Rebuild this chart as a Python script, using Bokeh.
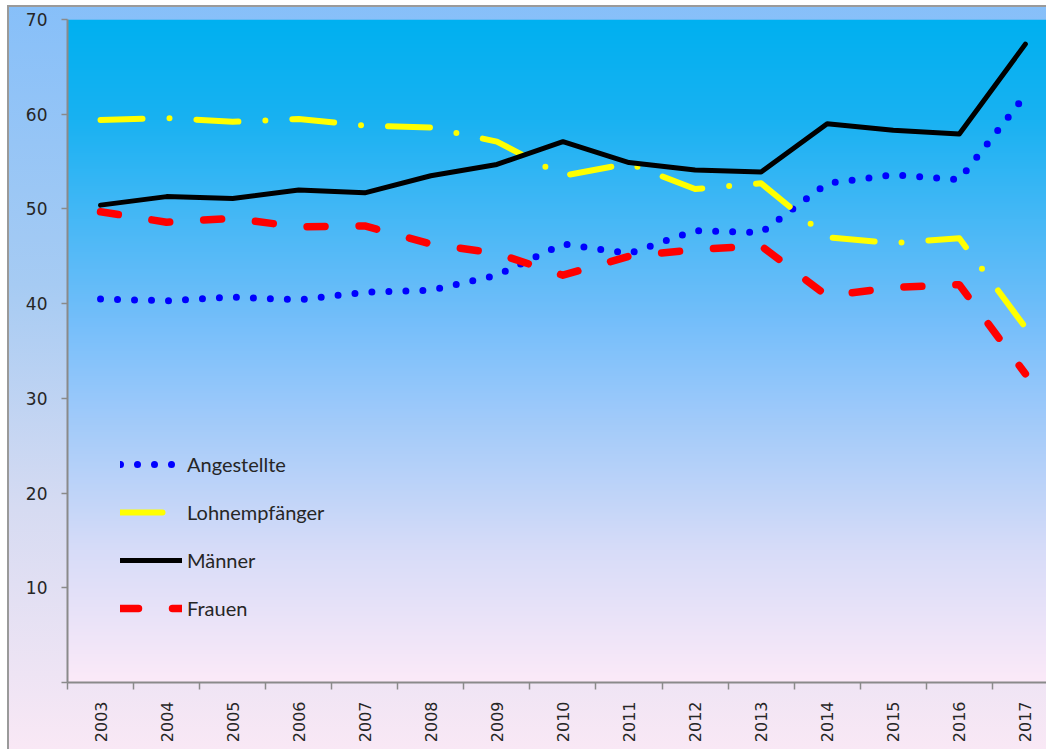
import numpy as np
from bokeh.plotting import figure
from bokeh.models import FixedTicker, Legend, LegendItem
from bokeh.embed import file_html
from bokeh.resources import INLINE

years = list(range(2003, 2018))
angestellte = [40.5, 40.3, 40.7, 40.4, 41.2, 41.4, 43.0, 46.3, 45.3, 47.7, 47.5, 52.7, 53.6, 53.1, 62.0]
lohnempfaenger = [59.4, 59.6, 59.2, 59.5, 58.8, 58.6, 57.1, 53.5, 54.8, 52.1, 52.7, 47.0, 46.4, 46.9, 37.5]
maenner = [50.4, 51.3, 51.1, 52.0, 51.7, 53.5, 54.7, 57.1, 54.9, 54.1, 53.9, 59.0, 58.3, 57.9, 67.4]
frauen = [49.7, 48.6, 49.0, 48.1, 48.2, 46.3, 45.3, 43.0, 45.0, 45.7, 46.1, 40.8, 41.7, 42.0, 32.6]
y_ticks = [0, 10, 20, 30, 40, 50, 60, 70]
series_names = ["Angestellte", "Lohnempfänger", "Männer", "Frauen"]

x_start = years[0] - 0.5
x_end = 2017.32

p = figure(width=1046, height=749, x_range=(x_start, x_end), y_range=(0, 70),
           output_backend="svg", toolbar_location=None,
           min_border_left=67, min_border_right=0, min_border_top=19, min_border_bottom=67)
p.border_fill_color = None
p.background_fill_color = None
p.outline_line_color = None
p.grid.visible = False
p.styles = {
    "background": "linear-gradient(to bottom, #86bff9 0%, #a6cbf3 38%, #d6dbf2 68%, #f9e8f5 100%)",
    "box-shadow": "inset 7px 5px 0 0 #ffffff, inset 9px 7px 0 0 #9a9a9a",
}

# plot-area gradient background
N = 663
stops_t = [0.0, 0.15, 0.45, 0.6, 0.8, 1.0]          # from top
stops_c = [(0, 176, 240), (25, 178, 242), (115, 190, 250), (160, 202, 250), (215, 220, 248), (252, 234, 248)]
t = np.linspace(1.0, 0.0, N)  # row 0 = bottom
img = np.empty((N, 2), dtype=np.uint32)
view = img.view(dtype=np.uint8).reshape((N, 2, 4))
for ch in range(3):
    vals = np.interp(t, stops_t, [c[ch] for c in stops_c])
    view[:, :, ch] = vals[:, None].astype(np.uint8)
view[:, :, 3] = 255
p.image_rgba(image=[img], x=x_start, y=0, dw=x_end - x_start, dh=70)

r_ang = p.line(years, angestellte, line_color="#0000ff", line_width=7,
               line_dash="0 17", line_cap="round", line_join="round")
r_loh = p.line(years, lohnempfaenger, line_color="#ffff00", line_width=6,
               line_dash="42 27 0 27", line_cap="round", line_join="round")
r_man = p.line(years, maenner, line_color="#000000", line_width=5,
               line_cap="round", line_join="round")
r_fra = p.line(years, frauen, line_color="#ff0000", line_width=7.5,
               line_dash="18 34", line_cap="round", line_join="round")

legend = Legend(items=[LegendItem(label=n, renderers=[r]) for n, r in
                       zip(series_names, [r_ang, r_loh, r_man, r_fra])],
                location=(53, 62))
legend.background_fill_alpha = 0
legend.border_line_color = None
legend.padding = 0
legend.margin = 0
legend.glyph_width = 62
legend.glyph_height = 20
legend.label_height = 20
legend.spacing = 24
legend.label_standoff = 5
legend.label_text_font = "Lato"
legend.label_text_font_size = "20px"
legend.label_text_color = "#262626"
p.add_layout(legend, "center")

# y axis
p.yaxis.ticker = FixedTicker(ticks=y_ticks, minor_ticks=[])
p.yaxis.major_label_overrides = {0: ""}
p.yaxis.axis_line_color = "#8a8a8a"
p.yaxis.axis_line_width = 2
p.yaxis.major_tick_line_color = "#8a8a8a"
p.yaxis.major_tick_line_width = 1.5
p.yaxis.major_tick_out = 6
p.yaxis.major_tick_in = 0
p.yaxis.major_label_standoff = 14
p.yaxis.major_label_text_font = "DejaVu Sans"
p.yaxis.major_label_text_font_size = "17px"
p.yaxis.major_label_text_color = "#262626"

# x axis: labels at years, tick marks between categories
p.xaxis.ticker = FixedTicker(ticks=years, minor_ticks=[y - 0.5 for y in years])
p.xaxis.major_label_overrides = {y: str(y) for y in years}
p.xaxis.axis_line_color = "#8a8a8a"
p.xaxis.axis_line_width = 2
p.xaxis.major_tick_line_color = None
p.xaxis.major_tick_out = 0
p.xaxis.major_tick_in = 0
p.xaxis.minor_tick_line_color = "#8a8a8a"
p.xaxis.minor_tick_line_width = 1.5
p.xaxis.minor_tick_out = 7
p.xaxis.minor_tick_in = 0
p.xaxis.major_label_orientation = np.pi / 2
p.xaxis.major_label_standoff = 12
p.xaxis.major_label_text_font = "DejaVu Sans"
p.xaxis.major_label_text_font_size = "16px"
p.xaxis.major_label_text_color = "#262626"

open("out.html", "w").write(file_html(p, INLINE))
